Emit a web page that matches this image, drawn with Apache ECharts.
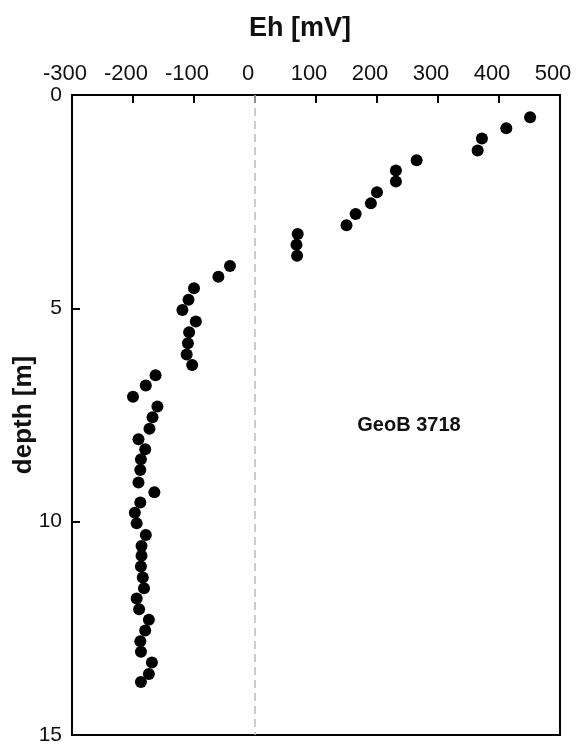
<!DOCTYPE html>
<html><head><meta charset="utf-8">
<script src="https://cdn.jsdelivr.net/npm/echarts@6/dist/echarts.min.js"></script>
<style>html,body{margin:0;padding:0;background:#fff}#c{width:577px;height:744px}</style>
</head><body><div id="c"></div>
<script>
var ehValues = [451, 412, 372, 365, 265, 231, 231, 200, 190, 165, 150, 70, 68, 69, -41, -60,
  -100, -109, -119, -97, -108, -110, -112, -103, -163, -179, -200, -160, -168, -173, -191, -180,
  -187, -188, -191, -165, -188, -197, -194, -179, -186, -186, -187, -184, -182, -194, -190, -174,
  -180, -188, -187, -169, -174, -187];
var depthValues = [0.52, 0.78, 1.02, 1.30, 1.53, 1.77, 2.03, 2.28, 2.54, 2.79, 3.05, 3.26, 3.51, 3.77, 4.01, 4.26,
  4.53, 4.80, 5.04, 5.31, 5.56, 5.82, 6.08, 6.33, 6.57, 6.81, 7.07, 7.30, 7.55, 7.82, 8.07, 8.30,
  8.54, 8.79, 9.08, 9.31, 9.55, 9.79, 10.04, 10.31, 10.57, 10.80, 11.05, 11.31, 11.56, 11.80, 12.05, 12.30,
  12.55, 12.80, 13.05, 13.30, 13.57, 13.76];
var xTicks = {min: -300, max: 500, interval: 100};
var yTicks = {min: 0, max: 15, interval: 5};
var stationLabel = 'GeoB 3718';

var pts = ehValues.map(function (v, i) { return [v, depthValues[i]]; });
var font = 'Liberation Sans, Arial, sans-serif';
var chart = echarts.init(document.getElementById('c'));
chart.setOption({
  animation: false,
  backgroundColor: '#fff',
  grid: {left: 72, top: 95, right: 17, bottom: 9, outerBoundsMode: 'none', containLabel: false,
    show: true, borderColor: '#000', borderWidth: 2, backgroundColor: 'transparent'},
  xAxis: {
    type: 'value', position: 'top', min: xTicks.min, max: xTicks.max, interval: xTicks.interval,
    name: 'Eh [mV]', nameLocation: 'middle', nameGap: 53, nameMoveOverlap: false,
    nameTextStyle: {fontFamily: font, fontSize: 27, fontWeight: 'bold', color: '#111', padding: [0, 32, 0, 0]},
    axisLine: {show: true, onZero: false, lineStyle: {color: '#000', width: 2}},
    axisTick: {show: true, inside: true, length: 8, lineStyle: {color: '#000', width: 2}},
    axisLabel: {fontFamily: font, fontSize: 22, color: '#111', margin: 10, padding: [0, 14, 0, 0]},
    splitLine: {show: false}
  },
  yAxis: {
    type: 'value', inverse: true, min: yTicks.min, max: yTicks.max, interval: yTicks.interval,
    name: 'depth [m]', nameLocation: 'middle', nameGap: 35, nameRotate: 90, nameMoveOverlap: false,
    nameTextStyle: {fontFamily: font, fontSize: 26, fontWeight: 'bold', color: '#111'},
    axisLine: {show: true, onZero: false, lineStyle: {color: '#000', width: 2}},
    axisTick: {show: true, inside: true, length: 8, lineStyle: {color: '#000', width: 2}},
    axisLabel: {fontFamily: font, fontSize: 21, color: '#111', margin: 10},
    splitLine: {show: false}
  },
  series: [{
    type: 'scatter', data: pts, symbol: 'circle', symbolSize: 12,
    itemStyle: {color: '#000', opacity: 1},
    markLine: {
      silent: true, symbol: 'none', label: {show: false},
      lineStyle: {color: '#bbb', type: [8, 5], width: 1.5},
      data: [{xAxis: 0}]
    }
  }],
  graphic: [{
    type: 'text', x: 409, y: 425,
    style: {text: stationLabel, fontFamily: font, fontSize: 20, fontWeight: 'bold', fill: '#111', align: 'center', verticalAlign: 'middle'}
  }]
});
</script></body></html>
